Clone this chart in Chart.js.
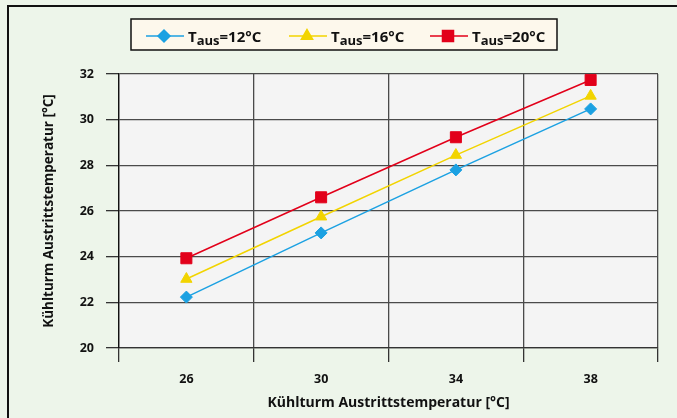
<!DOCTYPE html>
<html>
<head>
<meta charset="utf-8">
<script src="https://cdn.jsdelivr.net/npm/chart.js@4"></script>
<style>
    body { margin: 0; background: #edf5ea; }
    #wrap { width: 677px; height: 418px; position: relative; }
</style>
</head>
<body>
<div id="wrap"><canvas id="lineChart"></canvas></div>
<script>
// data
const categories = ["26", "30", "34", "38"];
const taus12 = [22.23, 25.04, 27.8, 30.47];
const taus16 = [23.02, 25.75, 28.45, 31.04];
const taus20 = [23.93, 26.6, 29.23, 31.74];
const yTicks = { min: 20, max: 32, step: 2 };

const legendItems = [
    { num: "=12°C", color: "#1ba1e2", style: "rectRot", r: 6 },
    { num: "=16°C", color: "#f2d400", style: "triangle", r: 6.5 },
    { num: "=20°C", color: "#e2001a", style: "rect", r: 7.8 }
];

const FONT = "'Open Sans', sans-serif";

// background, frame and legend box
const framePlugin = {
    id: "frame",
    beforeDraw(chart) {
        const ctx = chart.ctx;
        const a = chart.chartArea;
        ctx.save();
        ctx.fillStyle = "#edf5ea";
        ctx.fillRect(0, 0, chart.width, chart.height);
        ctx.strokeStyle = "#111";
        ctx.lineWidth = 2;
        ctx.beginPath();
        ctx.moveTo(8, chart.height + 2);
        ctx.lineTo(8, 6);
        ctx.lineTo(chart.width + 2, 6);
        ctx.stroke();
        ctx.fillStyle = "#f4f4f4";
        ctx.fillRect(a.left, a.top, a.right - a.left, a.bottom - a.top);
        ctx.restore();
    },
    afterDraw(chart) {
        const ctx = chart.ctx;
        ctx.save();
        ctx.fillStyle = "#fdf8ec";
        ctx.fillRect(131, 19, 426, 31);
        ctx.strokeStyle = "#111";
        ctx.lineWidth = 1.5;
        ctx.strokeRect(131, 19, 426, 31);

        const starts = [146, 289, 430];
        legendItems.forEach((it, i) => {
            const x0 = starts[i];
            const ly = 36;
            ctx.strokeStyle = it.color;
            ctx.lineWidth = 1.5;
            ctx.beginPath();
            ctx.moveTo(x0, ly);
            ctx.lineTo(x0 + 38, ly);
            ctx.stroke();
            ctx.fillStyle = it.color;
            Chart.helpers.drawPoint(ctx, { pointStyle: it.style, radius: it.r, borderWidth: 1 }, x0 + 18, ly);
            ctx.fill();

            ctx.fillStyle = "#111";
            ctx.textBaseline = "alphabetic";
            ctx.textAlign = "left";
            let tx = x0 + 42;
            ctx.font = "700 15px " + FONT;
            ctx.fillText("T", tx, 42);
            tx += ctx.measureText("T").width;
            ctx.font = "700 13px " + FONT;
            ctx.fillText("aus", tx, 45);
            tx += ctx.measureText("aus").width;
            ctx.font = "700 15px " + FONT;
            ctx.fillText(it.num, tx, 42);
        });
        ctx.restore();
    }
};

function series(label, data, color, style, r) {
    return {
        label: label,
        data: data,
        borderColor: color,
        backgroundColor: color,
        borderWidth: 1.5,
        pointStyle: style,
        pointRadius: r,
        pointHoverRadius: r,
        pointBorderWidth: 1,
        tension: 0
    };
}

new Chart(document.getElementById("lineChart"), {
    type: "line",
    data: {
        labels: categories,
        datasets: [
            series("Taus=12°C", taus12, legendItems[0].color, "rectRot", 6),
            series("Taus=16°C", taus16, legendItems[1].color, "triangle", 6.5),
            series("Taus=20°C", taus20, legendItems[2].color, "rect", 7.8)
        ]
    },
    options: {
        responsive: true,
        maintainAspectRatio: false,
        animation: false,
        layout: { padding: { top: 74, right: 19, left: 0, bottom: 0 } },
        plugins: {
            legend: { display: false },
            tooltip: { enabled: false }
        },
        scales: {
            x: {
                offset: true,
                grid: { offset: true, color: "#4a4a4a", lineWidth: 1.3, tickLength: 14, tickColor: "#333" },
                border: { color: "#333", width: 1.3 },
                ticks: { color: "#111", padding: 10, font: { family: FONT, size: 12.5, weight: "700" } },
                title: {
                    display: true,
                    text: "Kühlturm Austrittstemperatur [°C]",
                    color: "#111",
                    font: { family: FONT, size: 14, weight: "700" },
                    padding: { top: 0, bottom: 7 }
                },
                afterFit(scale) { scale.height = 70; }
            },
            y: {
                min: yTicks.min,
                max: yTicks.max,
                grid: { color: "#4a4a4a", lineWidth: 1.3, tickLength: 13, tickColor: "#333" },
                border: { color: "#111", width: 1.3 },
                ticks: { stepSize: yTicks.step, color: "#111", padding: 12, font: { family: FONT, size: 12.5, weight: "700" } },
                title: {
                    display: true,
                    text: "Kühlturm Austrittstemperatur [°C]",
                    color: "#111",
                    font: { family: FONT, size: 13.5, weight: "700" },
                    padding: { top: 41, bottom: 0 }
                },
                afterFit(scale) { scale.width = 119; }
            }
        }
    },
    plugins: [framePlugin]
});
</script>
</body>
</html>
